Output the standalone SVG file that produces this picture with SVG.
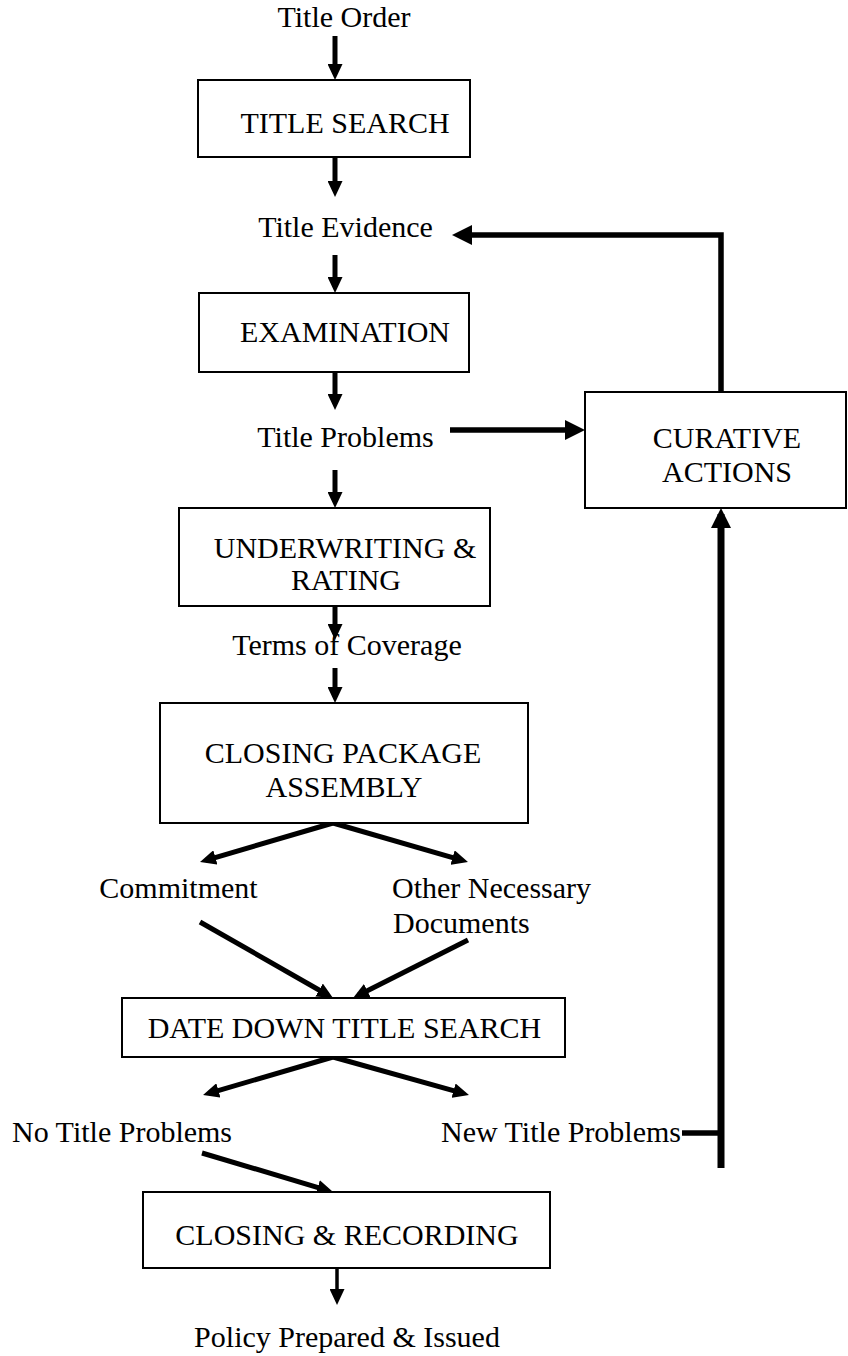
<svg xmlns="http://www.w3.org/2000/svg" width="848" height="1356" viewBox="0 0 848 1356">
<style>
text{font-family:"Liberation Serif","Times New Roman",serif;font-size:30px;fill:#000}
.c{text-anchor:middle}
.box{fill:#fff;stroke:#000;stroke-width:2}
.ar{stroke:#000;stroke-width:5;fill:none}
.thk{stroke:#000;stroke-width:5.5;fill:none}
</style>
<defs>
<marker id="ah" markerUnits="userSpaceOnUse" markerWidth="16" markerHeight="15" refX="10" refY="7.5" orient="auto"><path d="M0,0 L16,7.5 L0,15 z" fill="#000"/></marker>
<marker id="ahb" markerUnits="userSpaceOnUse" markerWidth="20" markerHeight="20" refX="14" refY="10" orient="auto"><path d="M0,0 L20,10 L0,20 z" fill="#000"/></marker>
</defs>
<rect width="848" height="1356" fill="#fff"/>
<g id="connectors">
<line class="ar" x1="335" y1="36" x2="335" y2="74" marker-end="url(#ah)"/>
<line class="ar" x1="335" y1="157" x2="335" y2="191" marker-end="url(#ah)"/>
<line class="ar" x1="335" y1="255" x2="335" y2="287" marker-end="url(#ah)"/>
<line class="ar" x1="335" y1="372" x2="335" y2="404" marker-end="url(#ah)"/>
<line class="ar" x1="335" y1="470" x2="335" y2="502" marker-end="url(#ah)"/>
<line class="ar" x1="335" y1="606" x2="335" y2="634" marker-end="url(#ah)"/>
<line class="ar" x1="335" y1="668" x2="335" y2="697" marker-end="url(#ah)"/>
<line class="ar" x1="333" y1="823" x2="205.8" y2="860.3" marker-end="url(#ah)"/>
<line class="ar" x1="333" y1="823" x2="462.2" y2="860.3" marker-end="url(#ah)"/>
<line class="ar" x1="200" y1="922" x2="327.8" y2="995" marker-end="url(#ah)"/>
<line class="ar" x1="468" y1="940" x2="358.4" y2="995.3" marker-end="url(#ah)"/>
<line class="ar" x1="333" y1="1057" x2="208.8" y2="1093.3" marker-end="url(#ah)"/>
<line class="ar" x1="333" y1="1057" x2="463.2" y2="1093.4" marker-end="url(#ah)"/>
<line class="ar" x1="202" y1="1153" x2="327.3" y2="1190.3" marker-end="url(#ah)"/>
<line class="ar" style="stroke-width:3.5" x1="337" y1="1268" x2="337" y2="1299" marker-end="url(#ah)"/>
<polyline class="thk" points="721,392 721,235 458,235" marker-end="url(#ahb)"/>
<line class="thk" x1="450" y1="430" x2="579" y2="430" marker-end="url(#ahb)"/>
<line class="thk" x1="682" y1="1133" x2="721" y2="1133"/>
<line class="thk" style="stroke-width:7" x1="721" y1="1168" x2="721" y2="514" marker-end="url(#ahb)"/>
</g>
<g id="title-order"><text class="c" x="344" y="27">Title Order</text></g>
<g id="title-search"><rect class="box" x="198" y="80" width="272" height="77"/><text class="c" x="345" y="133">TITLE SEARCH</text></g>
<g id="title-evidence"><text class="c" x="345.5" y="237">Title Evidence</text></g>
<g id="examination"><rect class="box" x="199" y="293" width="270" height="79"/><text class="c" x="345" y="342">EXAMINATION</text></g>
<g id="title-problems"><text class="c" x="345.5" y="447">Title Problems</text></g>
<g id="curative-actions"><rect class="box" x="585" y="392" width="261" height="116"/><text class="c" x="727" y="448">CURATIVE</text><text class="c" x="727" y="482">ACTIONS</text></g>
<g id="underwriting"><rect class="box" x="179" y="508" width="311" height="98"/><text class="c" x="345" y="558">UNDERWRITING &amp;</text><text class="c" x="346" y="590">RATING</text></g>
<g id="terms-of-coverage"><text class="c" x="347" y="655">Terms of Coverage</text></g>
<g id="closing-package"><rect class="box" x="160" y="703" width="368" height="120"/><text class="c" x="343" y="763">CLOSING PACKAGE</text><text class="c" x="344" y="797">ASSEMBLY</text></g>
<g id="commitment"><text class="c" x="178.5" y="898">Commitment</text></g>
<g id="other-documents"><text x="392" y="898">Other Necessary</text><text x="393" y="933">Documents</text></g>
<g id="date-down"><rect class="box" x="122" y="998" width="443" height="59"/><text class="c" x="344.5" y="1038">DATE DOWN TITLE SEARCH</text></g>
<g id="no-title-problems"><text x="12" y="1142">No Title Problems</text></g>
<g id="new-title-problems"><text x="441" y="1142">New Title Problems</text></g>
<g id="closing-recording"><rect class="box" x="143" y="1192" width="407" height="76"/><text class="c" x="347" y="1245">CLOSING &amp; RECORDING</text></g>
<g id="policy"><text class="c" x="347" y="1347">Policy Prepared &amp; Issued</text></g>
</svg>
